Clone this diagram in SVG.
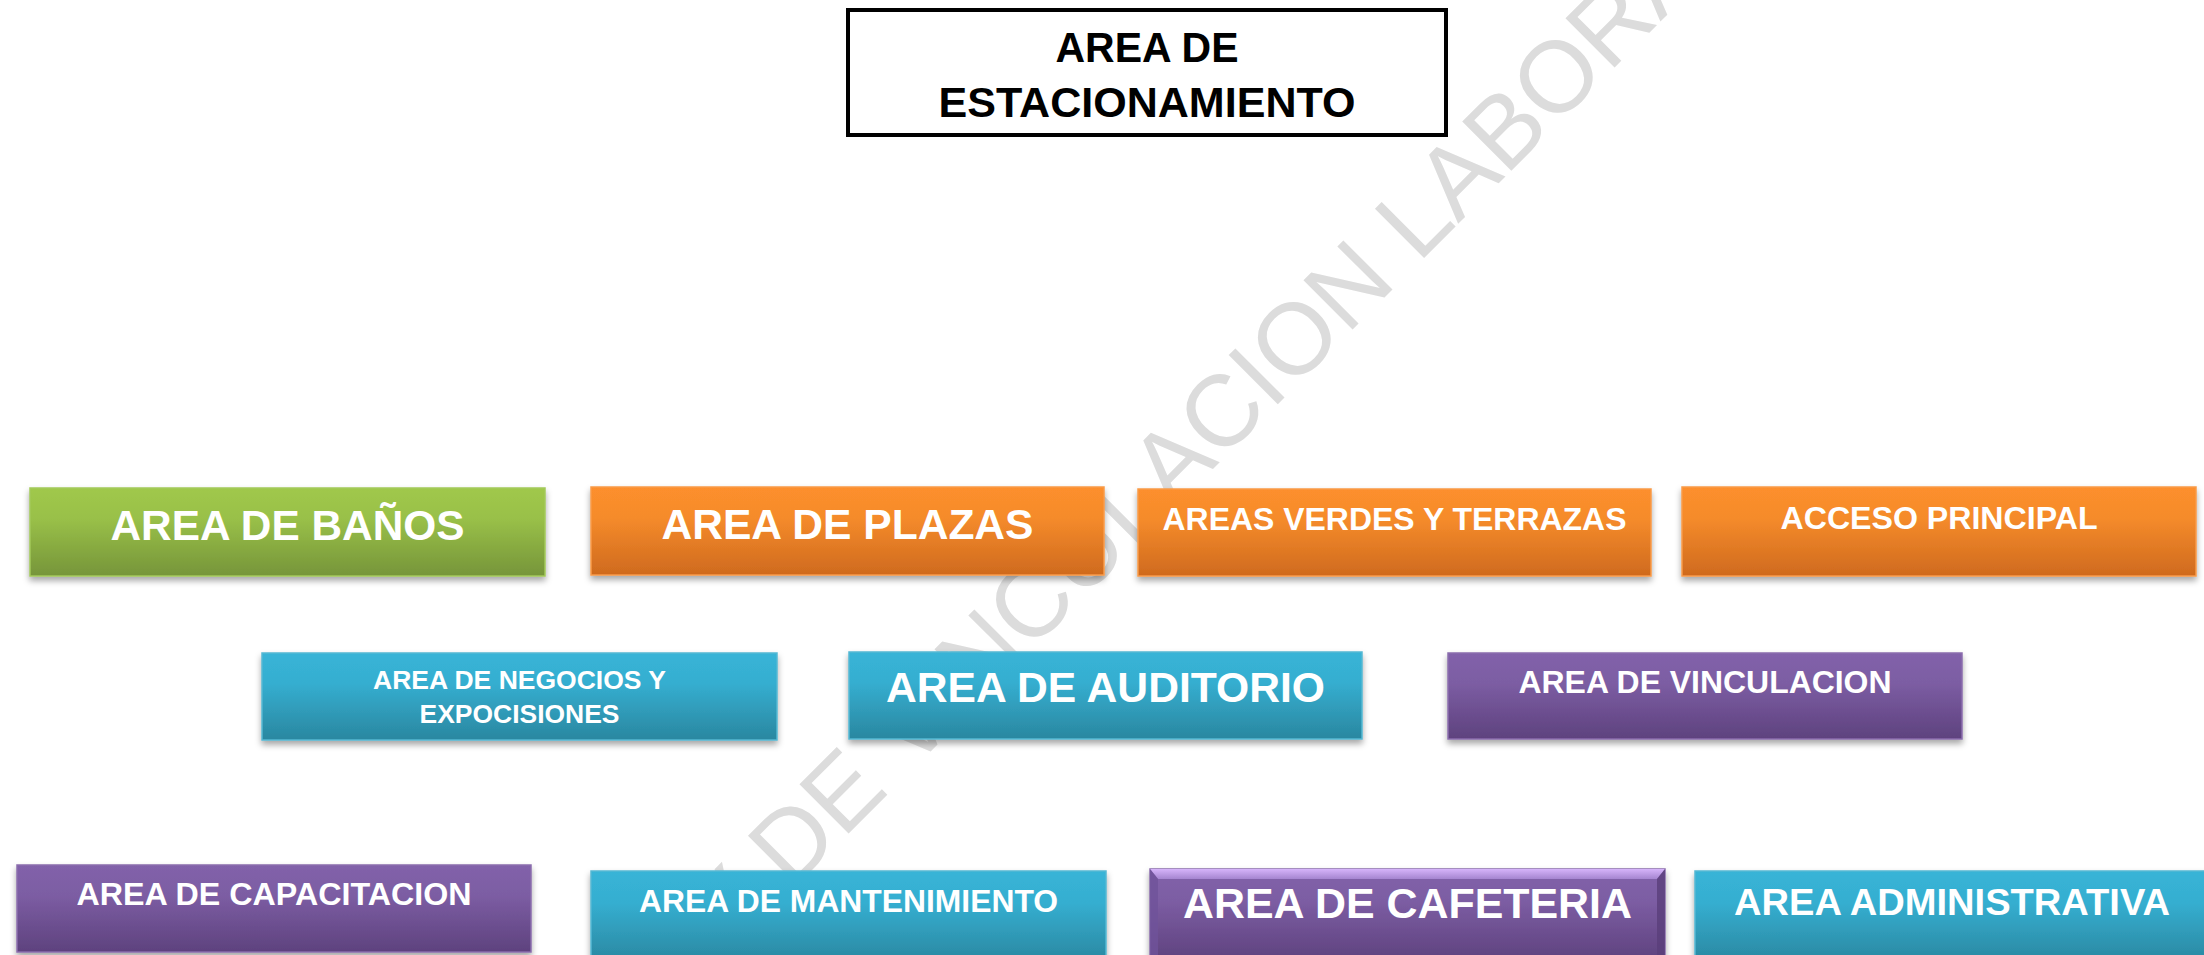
<svg xmlns="http://www.w3.org/2000/svg" width="2204" height="955" viewBox="0 0 2204 955">
  <defs>
    <linearGradient id="gGreen" x1="0" y1="0" x2="0" y2="1">
      <stop offset="0" stop-color="#A0C84C"/>
      <stop offset="0.35" stop-color="#99C048"/>
      <stop offset="1" stop-color="#76953A"/>
    </linearGradient>
    <linearGradient id="gOrange" x1="0" y1="0" x2="0" y2="1">
      <stop offset="0" stop-color="#FD8F2D"/>
      <stop offset="0.35" stop-color="#F58B2B"/>
      <stop offset="1" stop-color="#CF6A1E"/>
    </linearGradient>
    <linearGradient id="gBlue" x1="0" y1="0" x2="0" y2="1">
      <stop offset="0" stop-color="#38B4D7"/>
      <stop offset="0.35" stop-color="#35AED0"/>
      <stop offset="1" stop-color="#2A87A0"/>
    </linearGradient>
    <linearGradient id="gPurple" x1="0" y1="0" x2="0" y2="1">
      <stop offset="0" stop-color="#8262AA"/>
      <stop offset="0.35" stop-color="#7C5DA3"/>
      <stop offset="1" stop-color="#5E427E"/>
    </linearGradient>
    <linearGradient id="gBevel" x1="0" y1="0" x2="0" y2="1">
      <stop offset="0" stop-color="#D6B4FA"/>
      <stop offset="1" stop-color="#A585D0"/>
    </linearGradient>
    <filter id="shadow" x="-5%" y="-20%" width="110%" height="150%">
      <feDropShadow dx="0" dy="4" stdDeviation="3" flood-color="#000000" flood-opacity="0.35"/>
    </filter>
  </defs>
  <style>
    .lbl { font-family: "Liberation Sans", Arial, sans-serif; font-weight: bold; fill: #FFFFFF; text-anchor: middle; }
    .title { font-family: "Liberation Sans", Arial, sans-serif; font-weight: bold; fill: #000000; text-anchor: middle; font-size: 43px; }
    .wm { font-family: "Liberation Sans", Arial, sans-serif; font-size: 101px; fill: #DCDCDC; }
    .green { fill: url(#gGreen); stroke: #A3C95A; stroke-width: 1.5; filter: url(#shadow); }
    .orange { fill: url(#gOrange); stroke: #F99A48; stroke-width: 1.5; filter: url(#shadow); }
    .blue { fill: url(#gBlue); stroke: #55B8D3; stroke-width: 1.5; filter: url(#shadow); }
    .purple { fill: url(#gPurple); stroke: #8A6DAD; stroke-width: 1.5; filter: url(#shadow); }
  </style>
  <rect x="0" y="0" width="2204" height="955" fill="#FFFFFF"/>

  <g id="watermark">
    <text class="wm" transform="translate(725,957) rotate(-45)">Y DE VINCULACION LABORAL</text>
  </g>

  <g id="connectors"/>

  <g id="estacionamiento">
    <rect x="848" y="10" width="598" height="125" fill="#FFFFFF" stroke="#000000" stroke-width="4"/>
    <text class="title" x="1147" y="62" textLength="183" lengthAdjust="spacingAndGlyphs">AREA DE</text>
    <text class="title" x="1147" y="117" textLength="417" lengthAdjust="spacingAndGlyphs">ESTACIONAMIENTO</text>
  </g>

  <g id="banos">
    <rect class="green" x="30" y="488" width="515" height="88"/>
    <text class="lbl" x="287.5" y="540" font-size="42" textLength="354" lengthAdjust="spacingAndGlyphs">AREA DE BAÑOS</text>
  </g>
  <g id="plazas">
    <rect class="orange" x="591" y="487" width="513" height="88"/>
    <text class="lbl" x="847.5" y="539" font-size="42" textLength="372" lengthAdjust="spacingAndGlyphs">AREA DE PLAZAS</text>
  </g>
  <g id="verdes">
    <rect class="orange" x="1138" y="489" width="513" height="87"/>
    <text class="lbl" x="1394.5" y="530" font-size="32" textLength="464" lengthAdjust="spacingAndGlyphs">AREAS VERDES Y TERRAZAS</text>
  </g>
  <g id="acceso">
    <rect class="orange" x="1682" y="487" width="514" height="89"/>
    <text class="lbl" x="1939" y="529" font-size="32" textLength="317" lengthAdjust="spacingAndGlyphs">ACCESO PRINCIPAL</text>
  </g>

  <g id="negocios">
    <rect class="blue" x="262" y="653" width="515" height="87"/>
    <text class="lbl" x="519.5" y="689" font-size="26" textLength="293" lengthAdjust="spacingAndGlyphs">AREA DE NEGOCIOS Y</text>
    <text class="lbl" x="519.5" y="723" font-size="26" textLength="200" lengthAdjust="spacingAndGlyphs">EXPOCISIONES</text>
  </g>
  <g id="auditorio">
    <rect class="blue" x="849" y="652" width="513" height="87"/>
    <text class="lbl" x="1105.5" y="702" font-size="42.5" textLength="439" lengthAdjust="spacingAndGlyphs">AREA DE AUDITORIO</text>
  </g>
  <g id="vinculacion">
    <rect class="purple" x="1448" y="653" width="514" height="86"/>
    <text class="lbl" x="1705" y="693" font-size="31.5" textLength="373" lengthAdjust="spacingAndGlyphs">AREA DE VINCULACION</text>
  </g>

  <g id="capacitacion">
    <rect class="purple" x="17" y="865" width="514" height="87"/>
    <text class="lbl" x="274" y="905" font-size="31.5" textLength="395" lengthAdjust="spacingAndGlyphs">AREA DE CAPACITACION</text>
  </g>
  <g id="mantenimiento">
    <rect class="blue" x="591" y="871" width="515" height="92"/>
    <text class="lbl" x="848.5" y="912" font-size="31.5" textLength="419" lengthAdjust="spacingAndGlyphs">AREA DE MANTENIMIENTO</text>
  </g>
  <g id="cafeteria">
    <rect class="purple" x="1150" y="869" width="515" height="92" stroke="#6E5490"/>
    <polygon points="1150,869 1665,869 1657,879 1158,879" fill="url(#gBevel)"/>
    <polygon points="1150,869 1158,879 1158,955 1150,955" fill="#6F529A" opacity="0.8"/>
    <polygon points="1665,869 1657,879 1657,955 1665,955" fill="#5A3F7A" opacity="0.8"/>
    <text class="lbl" x="1407.5" y="918" font-size="42.5" textLength="449" lengthAdjust="spacingAndGlyphs">AREA DE CAFETERIA</text>
  </g>
  <g id="administrativa">
    <rect class="blue" x="1695" y="871" width="514" height="92"/>
    <text class="lbl" x="1952" y="915" font-size="36.5" textLength="436" lengthAdjust="spacingAndGlyphs">AREA ADMINISTRATIVA</text>
  </g>
</svg>
